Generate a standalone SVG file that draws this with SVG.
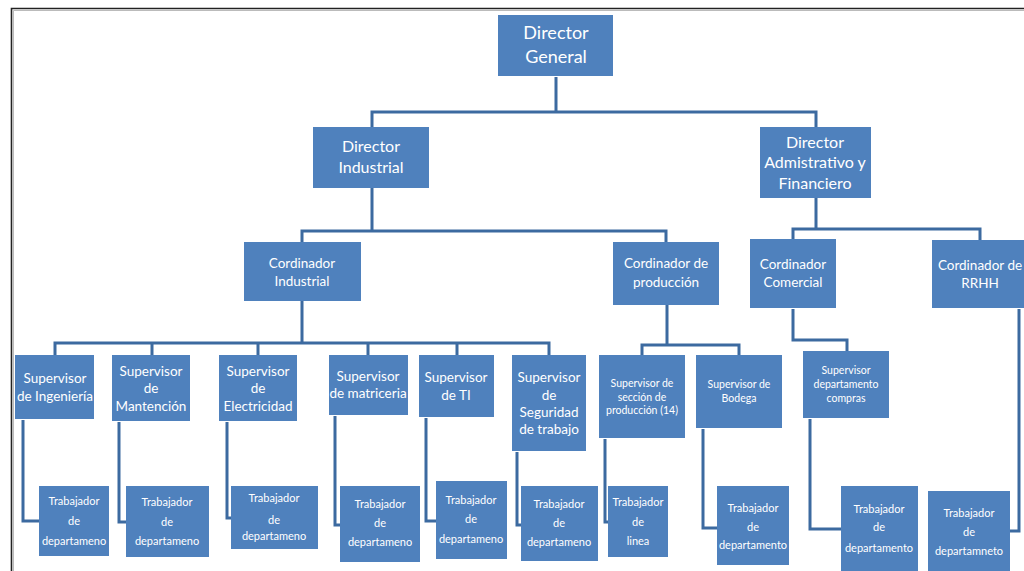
<svg xmlns="http://www.w3.org/2000/svg" width="1024" height="571" viewBox="0 0 1024 571">
  <style>
    .box { fill: #4f81bd; }
    .lbl { fill: #ffffff; font-family: Lato, "Open Sans", "Liberation Sans", sans-serif; text-anchor: middle; }
    .xl { font-size: 18px; }
    .l { font-size: 16px; }
    .m { font-size: 13.5px; }
    .s { font-size: 10.5px; }
    .w { font-size: 11px; }
    .link { fill: none; stroke: #3c6aa0; stroke-width: 3; stroke-linejoin: miter; }
  </style>

  <rect width="1024" height="571" fill="#ffffff"/>
  <!-- page frame -->
  <path d="M11.5 571 V8.5 H1024" fill="none" stroke="#222222" stroke-width="1.6"/>
  <path d="M13.5 571 V10.5 H1024" fill="none" stroke="#aaaaaa" stroke-width="0.8"/>

  <g id="connectors" class="link">
    <path d="M556 77 V112 M372 127 V112 H816 V127"/>
    <path d="M372 188 V231 M302 242 V231 H666 V242"/>
    <path d="M816 198 V229 M793 239 V229 H980 V240"/>
    <path d="M302 301 V343 M55 355 V343 H549 V355 M152 343 V355 M258 343 V355 M368 343 V355 M457 343 V355"/>
    <path d="M667 305 V345 M642 355 V345 H739 V355"/>
    <path d="M793 309 V340 H847 V351"/>
    <path d="M23 420 V521 H39"/>
    <path d="M119 422 V522 H126"/>
    <path d="M227 422 V518 H231"/>
    <path d="M335 416 V525 H340"/>
    <path d="M426 418 V521 H436"/>
    <path d="M517 452 V525 H521"/>
    <path d="M605 439 V522 H608"/>
    <path d="M703 429 V528 H717"/>
    <path d="M810 419 V529 H841"/>
    <path d="M1019 309 V531 H1010"/>
  </g>

  <g id="director-general">
    <rect class="box" x="498" y="15" width="115" height="61"/>
    <text class="lbl xl" x="556" y="39">Director</text>
    <text class="lbl xl" x="556" y="63">General</text>
  </g>

  <g id="director-industrial">
    <rect class="box" x="313" y="127" width="116" height="61"/>
    <text class="lbl l" x="371" y="152">Director</text>
    <text class="lbl l" x="371" y="173">Industrial</text>
  </g>

  <g id="director-administrativo">
    <rect class="box" x="760" y="127" width="111" height="71"/>
    <text class="lbl l" x="815" y="148">Director</text>
    <text class="lbl l" x="815" y="168">Admistrativo y</text>
    <text class="lbl l" x="815" y="189">Financiero</text>
  </g>

  <g id="cordinador-industrial">
    <rect class="box" x="244" y="242" width="117" height="59"/>
    <text class="lbl m" x="302" y="268">Cordinador</text>
    <text class="lbl m" x="302" y="286">Industrial</text>
  </g>

  <g id="cordinador-produccion">
    <rect class="box" x="613" y="242" width="106" height="63"/>
    <text class="lbl m" x="666" y="268">Cordinador de</text>
    <text class="lbl m" x="666" y="287">producción</text>
  </g>

  <g id="cordinador-comercial">
    <rect class="box" x="750" y="239" width="86" height="69"/>
    <text class="lbl m" x="793" y="269">Cordinador</text>
    <text class="lbl m" x="793" y="287">Comercial</text>
  </g>

  <g id="cordinador-rrhh">
    <rect class="box" x="932" y="240" width="96" height="68"/>
    <text class="lbl m" x="980" y="270">Cordinador de</text>
    <text class="lbl m" x="980" y="288">RRHH</text>
  </g>

  <g id="supervisor-ingenieria">
    <rect class="box" x="15" y="355" width="79" height="64"/>
    <text class="lbl m" x="55" y="383">Supervisor</text>
    <text class="lbl m" x="55" y="401">de Ingeniería</text>
  </g>

  <g id="supervisor-mantencion">
    <rect class="box" x="112" y="355" width="78" height="66"/>
    <text class="lbl m" x="151" y="376">Supervisor</text>
    <text class="lbl m" x="151" y="393">de</text>
    <text class="lbl m" x="151" y="411">Mantención</text>
  </g>

  <g id="supervisor-electricidad">
    <rect class="box" x="219" y="355" width="78" height="66"/>
    <text class="lbl m" x="258" y="376">Supervisor</text>
    <text class="lbl m" x="258" y="393">de</text>
    <text class="lbl m" x="258" y="411">Electricidad</text>
  </g>

  <g id="supervisor-matriceria">
    <rect class="box" x="329" y="355" width="79" height="60"/>
    <text class="lbl m" x="368" y="381">Supervisor</text>
    <text class="lbl m" x="368" y="398">de matriceria</text>
  </g>

  <g id="supervisor-ti">
    <rect class="box" x="419" y="355" width="75" height="62"/>
    <text class="lbl m" x="456" y="382">Supervisor</text>
    <text class="lbl m" x="456" y="400">de TI</text>
  </g>

  <g id="supervisor-seguridad">
    <rect class="box" x="512" y="355" width="74" height="96"/>
    <text class="lbl m" x="549" y="382">Supervisor</text>
    <text class="lbl m" x="549" y="400">de</text>
    <text class="lbl m" x="549" y="417">Seguridad</text>
    <text class="lbl m" x="549" y="434">de trabajo</text>
  </g>

  <g id="supervisor-seccion-produccion">
    <rect class="box" x="599" y="355" width="86" height="83"/>
    <text class="lbl s" x="642" y="387">Supervisor de</text>
    <text class="lbl s" x="642" y="401">sección de</text>
    <text class="lbl s" x="642" y="414">producción (14)</text>
  </g>

  <g id="supervisor-bodega">
    <rect class="box" x="696" y="355" width="86" height="73"/>
    <text class="lbl s" x="739" y="388">Supervisor de</text>
    <text class="lbl s" x="739" y="402">Bodega</text>
  </g>

  <g id="supervisor-compras">
    <rect class="box" x="803" y="351" width="86" height="67"/>
    <text class="lbl s" x="846" y="374">Supervisor</text>
    <text class="lbl s" x="846" y="388">departamento</text>
    <text class="lbl s" x="846" y="402">compras</text>
  </g>

  <g id="trabajador-1">
    <rect class="box" x="39" y="486" width="70" height="70"/>
    <text class="lbl w" x="74" y="505">Trabajador</text>
    <text class="lbl w" x="74" y="525">de</text>
    <text class="lbl w" x="74" y="545">departameno</text>
  </g>

  <g id="trabajador-2">
    <rect class="box" x="126" y="486" width="83" height="71"/>
    <text class="lbl w" x="167" y="506">Trabajador</text>
    <text class="lbl w" x="167" y="526">de</text>
    <text class="lbl w" x="167" y="545">departameno</text>
  </g>

  <g id="trabajador-3">
    <rect class="box" x="231" y="486" width="87" height="63"/>
    <text class="lbl w" x="274" y="502">Trabajador</text>
    <text class="lbl w" x="274" y="524">de</text>
    <text class="lbl w" x="274" y="540">departameno</text>
  </g>

  <g id="trabajador-4">
    <rect class="box" x="340" y="486" width="80" height="76"/>
    <text class="lbl w" x="380" y="508">Trabajador</text>
    <text class="lbl w" x="380" y="527">de</text>
    <text class="lbl w" x="380" y="546">departameno</text>
  </g>

  <g id="trabajador-5">
    <rect class="box" x="436" y="481" width="71" height="78"/>
    <text class="lbl w" x="471" y="504">Trabajador</text>
    <text class="lbl w" x="471" y="523">de</text>
    <text class="lbl w" x="471" y="543">departameno</text>
  </g>

  <g id="trabajador-6">
    <rect class="box" x="521" y="486" width="77" height="75"/>
    <text class="lbl w" x="559" y="508">Trabajador</text>
    <text class="lbl w" x="559" y="527">de</text>
    <text class="lbl w" x="559" y="546">departameno</text>
  </g>

  <g id="trabajador-linea">
    <rect class="box" x="608" y="486" width="60" height="71"/>
    <text class="lbl w" x="638" y="506">Trabajador</text>
    <text class="lbl w" x="638" y="526">de</text>
    <text class="lbl w" x="638" y="545">linea</text>
  </g>

  <g id="trabajador-bodega">
    <rect class="box" x="717" y="486" width="72" height="79"/>
    <text class="lbl w" x="753" y="512">Trabajador</text>
    <text class="lbl w" x="753" y="531">de</text>
    <text class="lbl w" x="753" y="549">departamento</text>
  </g>

  <g id="trabajador-compras">
    <rect class="box" x="841" y="486" width="77" height="85"/>
    <text class="lbl w" x="879" y="513">Trabajador</text>
    <text class="lbl w" x="879" y="531">de</text>
    <text class="lbl w" x="879" y="552">departamento</text>
  </g>

  <g id="trabajador-rrhh">
    <rect class="box" x="928" y="491" width="82" height="80"/>
    <text class="lbl w" x="969" y="517">Trabajador</text>
    <text class="lbl w" x="969" y="536">de</text>
    <text class="lbl w" x="969" y="555">departamneto</text>
  </g>
</svg>
